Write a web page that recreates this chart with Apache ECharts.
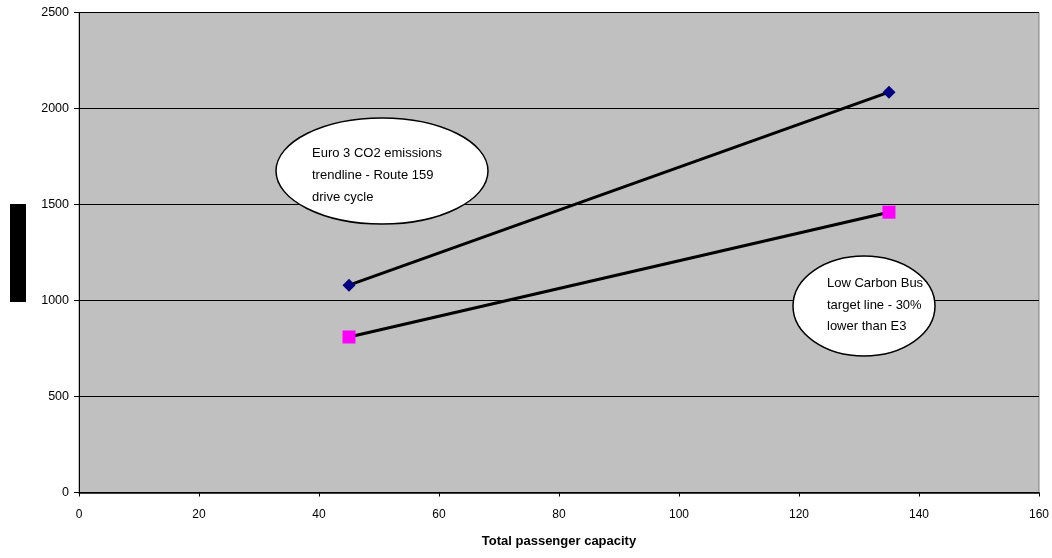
<!DOCTYPE html>
<html><head><meta charset="utf-8">
<script src="https://cdn.jsdelivr.net/npm/echarts@6/dist/echarts.min.js"></script>
<style>html,body{margin:0;padding:0;background:#fff}#c{width:1052px;height:558px}</style>
</head><body><div id="c"></div>
<script>
var xTicks = [0, 20, 40, 60, 80, 100, 120, 140, 160];
var yTicks = [0, 500, 1000, 1500, 2000, 2500];
var capacity = [45, 135];
var euro3 = [1080, 2085];
var lowCarbon = [810, 1460];
var note1 = ['Euro 3 CO2 emissions', 'trendline - Route 159', 'drive cycle'];
var note2 = ['Low Carbon Bus', 'target line - 30%', 'lower than E3'];

var chart = echarts.init(document.getElementById('c'), null, {renderer: 'canvas'});
var font = 'Arial, "Liberation Sans", sans-serif';
function pairs(xs, ys) { return xs.map(function (x, i) { return [x, ys[i]]; }); }
function plain(v) { return String(v); }

chart.setOption({
  animation: false,
  grid: {left: 79, right: 13, top: 12.5, bottom: 65.5, show: true, backgroundColor: '#C0C0C0', borderColor: '#808080', borderWidth: 1},
  xAxis: {
    type: 'value', min: xTicks[0], max: xTicks[xTicks.length - 1], interval: 20,
    name: 'Total passenger capacity', nameLocation: 'middle', nameGap: 42,
    nameTextStyle: {fontFamily: font, fontSize: 13, fontWeight: 'bold', color: '#000'},
    axisLine: {show: true, lineStyle: {color: '#000', width: 1.5}},
    axisTick: {show: true, inside: false, length: 4, lineStyle: {color: '#000'}},
    axisLabel: {fontFamily: font, fontSize: 12, color: '#000', margin: 16, formatter: plain},
    splitLine: {show: false}
  },
  yAxis: {
    type: 'value', min: yTicks[0], max: yTicks[yTicks.length - 1], interval: 500,
    axisLine: {show: true, lineStyle: {color: '#000', width: 1}},
    axisTick: {show: true, inside: false, length: 5, lineStyle: {color: '#000'}},
    axisLabel: {fontFamily: font, fontSize: 12.5, color: '#000', margin: 10, formatter: plain},
    splitLine: {show: true, lineStyle: {color: '#000', width: 1}}
  },
  series: [
    {type: 'line', data: pairs(capacity, euro3), symbol: 'diamond', symbolSize: 13,
     lineStyle: {color: '#000', width: 3}, itemStyle: {color: '#000080'}, z: 3},
    {type: 'line', data: pairs(capacity, lowCarbon), symbol: 'rect', symbolSize: 13,
     lineStyle: {color: '#000', width: 3}, itemStyle: {color: '#FF00FF'}, z: 3}
  ],
  graphic: [
    {type: 'rect', shape: {x: 10, y: 204, width: 16, height: 98}, style: {fill: '#000'}},
    {type: 'ellipse', shape: {cx: 382, cy: 171, rx: 106, ry: 53}, style: {fill: '#fff', stroke: '#000', lineWidth: 1.5}, z: 10},
    {type: 'text', x: 312, y: 142, style: {text: note1.join('\n'), font: '13px ' + font, fill: '#000', lineHeight: 22}, z: 11},
    {type: 'ellipse', shape: {cx: 864, cy: 306, rx: 71, ry: 50}, style: {fill: '#fff', stroke: '#000', lineWidth: 1.5}, z: 10},
    {type: 'text', x: 827, y: 273, style: {text: note2.join('\n'), font: '13px ' + font, fill: '#000', lineHeight: 21.5}, z: 11}
  ]
});
</script></body></html>
